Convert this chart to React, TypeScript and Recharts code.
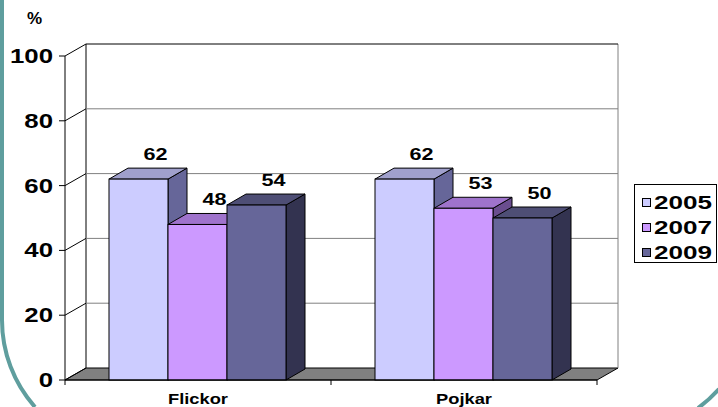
import { BarChart, Bar, XAxis, YAxis, CartesianGrid, Legend, LabelList } from "recharts";

const categories = ["Flickor", "Pojkar"];
const years = ["2005", "2007", "2009"];
const values2005 = [62, 62];
const values2007 = [48, 53];
const values2009 = [54, 50];
const yTicks = [0, 20, 40, 60, 80, 100];

const data = categories.map((name, i) => ({
  name,
  y2005: values2005[i],
  y2007: values2007[i],
  y2009: values2009[i],
}));

const FONT = "'Liberation Sans', Arial, sans-serif";
const FRONT = ["#CCCCFF", "#CC99FF", "#666699"];
const TOP = ["#A0A0CC", "#9F73CC", "#4E4E75"];
const SIDE = ["#666699", "#6A4D8F", "#333350"];
const WALL_DX = 21;
const WALL_DY = 12;
const BAR_DX = 19;
const BAR_DY = 11;

// back wall, floor and left wall drawn off the grid lines
const gridLine = (p: any) => {
  const { x1, x2, y1, x, y, width, height } = p;
  const bottom = y + height;
  const isFloor = Math.abs(y1 - bottom) < 0.5;
  const isTop = Math.abs(y1 - y) < 0.5;
  const bx1 = x1 + WALL_DX;
  const bx2 = x2 + WALL_DX;
  const by = y1 - WALL_DY;
  const n = categories.length;
  return (
    <g key={p.key}>
      {isFloor ? (
        <g>
          <polygon
            points={`${x1},${y1} ${x2},${y1} ${bx2},${by} ${bx1},${by}`}
            fill="#808080"
            stroke="#000"
          />
          <line x1={bx1} y1={y - WALL_DY} x2={bx1} y2={by} stroke="#000" />
          <line x1={bx2} y1={y - WALL_DY} x2={bx2} y2={by} stroke="#808080" />
          {Array.from({ length: n + 1 }, (_, k) => (
            <line
              key={k}
              x1={x + (width * k) / n}
              x2={x + (width * k) / n}
              y1={bottom}
              y2={bottom + 5}
              stroke="#000"
            />
          ))}
        </g>
      ) : (
        <line x1={bx1} y1={by} x2={bx2} y2={by} stroke={isTop ? "#000" : "#808080"} />
      )}
      <line x1={x1} y1={y1} x2={bx1} y2={by} stroke="#000" />
    </g>
  );
};

const bar3D = (i: number) => (p: any) => {
  const { x, y, width, height } = p;
  const r = x + width;
  return (
    <g>
      <polygon
        points={`${r},${y} ${r + BAR_DX},${y - BAR_DY} ${r + BAR_DX},${y + height - BAR_DY} ${r},${y + height}`}
        fill={SIDE[i]}
        stroke="#000"
      />
      <polygon
        points={`${x},${y} ${x + BAR_DX},${y - BAR_DY} ${r + BAR_DX},${y - BAR_DY} ${r},${y}`}
        fill={TOP[i]}
        stroke="#000"
      />
      <rect x={x} y={y} width={width} height={height} fill={FRONT[i]} stroke="#000" />
    </g>
  );
};

const valueLabel = (p: any) => {
  const { x, y, width, value } = p;
  return (
    <text
      transform={`translate(${x + width / 2 + 17},${y - 19}) scale(1.35,1)`}
      textAnchor="middle"
      fontFamily={FONT}
      fontWeight="bold"
      fontSize={16}
      fill="#000"
    >
      {value}
    </text>
  );
};

const XTick = (p: any) => (
  <text
    transform={`translate(${p.x},${p.y + 24}) scale(1.22,1)`}
    textAnchor="middle"
    fontFamily={FONT}
    fontWeight="bold"
    fontSize={15}
    fill="#000"
  >
    {p.payload.value}
  </text>
);

const YTick = (p: any) => (
  <text
    transform={`translate(${p.x},${p.y + 7}) scale(1.29,1)`}
    textAnchor="end"
    fontFamily={FONT}
    fontWeight="bold"
    fontSize={20}
    fill="#000"
  >
    {p.payload.value}
  </text>
);

const renderLegend = () => (
  <svg width={84} height={80} style={{ display: "block" }}>
    <rect x={0.5} y={0.5} width={82} height={78} fill="#fff" stroke="#000" />
    {years.map((yr, i) => (
      <g key={yr}>
        <rect x={8.5} y={14.5 + 25 * i} width={8} height={8} fill={FRONT[i]} stroke="#000" />
        <text
          transform={`translate(20,${24.5 + 25 * i}) scale(1.45,1)`}
          fontFamily={FONT}
          fontWeight="bold"
          fontSize={18}
          fill="#000"
        >
          {yr}
        </text>
      </g>
    ))}
  </svg>
);

export default function App() {
  return (
    <div style={{ position: "absolute", left: 0, top: 0, width: 718, height: 407, overflow: "hidden", background: "#fff" }}>
      <BarChart
        width={718}
        height={407}
        data={data}
        margin={{ top: 56, right: 121, bottom: 0, left: 0 }}
        barCategoryGap={44}
        barGap={0}
      >
        <CartesianGrid horizontal={gridLine} vertical={false} />
        <XAxis
          dataKey="name"
          height={27}
          axisLine={{ stroke: "#000" }}
          tickLine={false}
          tickSize={0}
          tickMargin={0}
          tick={XTick}
        />
        <YAxis
          width={65}
          domain={[0, 100]}
          ticks={yTicks}
          axisLine={{ stroke: "#000" }}
          tickLine={{ stroke: "#000" }}
          tickSize={6}
          tickMargin={6}
          tick={YTick}
        />
        <Legend
          layout="horizontal"
          align="center"
          verticalAlign="middle"
          content={renderLegend}
          wrapperStyle={{ position: "absolute", left: 634, top: 184, width: 84, height: 80 }}
        />
        <Bar dataKey="y2005" name="2005" fill={FRONT[0]} shape={bar3D(0)} isAnimationActive={false}>
          <LabelList dataKey="y2005" content={valueLabel} />
        </Bar>
        <Bar dataKey="y2007" name="2007" fill={FRONT[1]} shape={bar3D(1)} isAnimationActive={false}>
          <LabelList dataKey="y2007" content={valueLabel} />
        </Bar>
        <Bar dataKey="y2009" name="2009" fill={FRONT[2]} shape={bar3D(2)} isAnimationActive={false}>
          <LabelList dataKey="y2009" content={valueLabel} />
        </Bar>
      </BarChart>
      <div
        style={{
          position: "absolute",
          left: 27,
          top: 9,
          fontFamily: FONT,
          fontWeight: "bold",
          fontSize: 17,
          lineHeight: "20px",
        }}
      >
        %
      </div>
      <svg width={718} height={407} style={{ position: "absolute", left: 0, top: 0, pointerEvents: "none" }}>
        <path d="M2,0 L2,320 A131,131 0 0 0 35,407" fill="none" stroke="#5F9E9E" strokeWidth={4} />
        <path d="M698,408 A131,131 0 0 0 719,389" fill="none" stroke="#5F9E9E" strokeWidth={4} />
      </svg>
    </div>
  );
}
